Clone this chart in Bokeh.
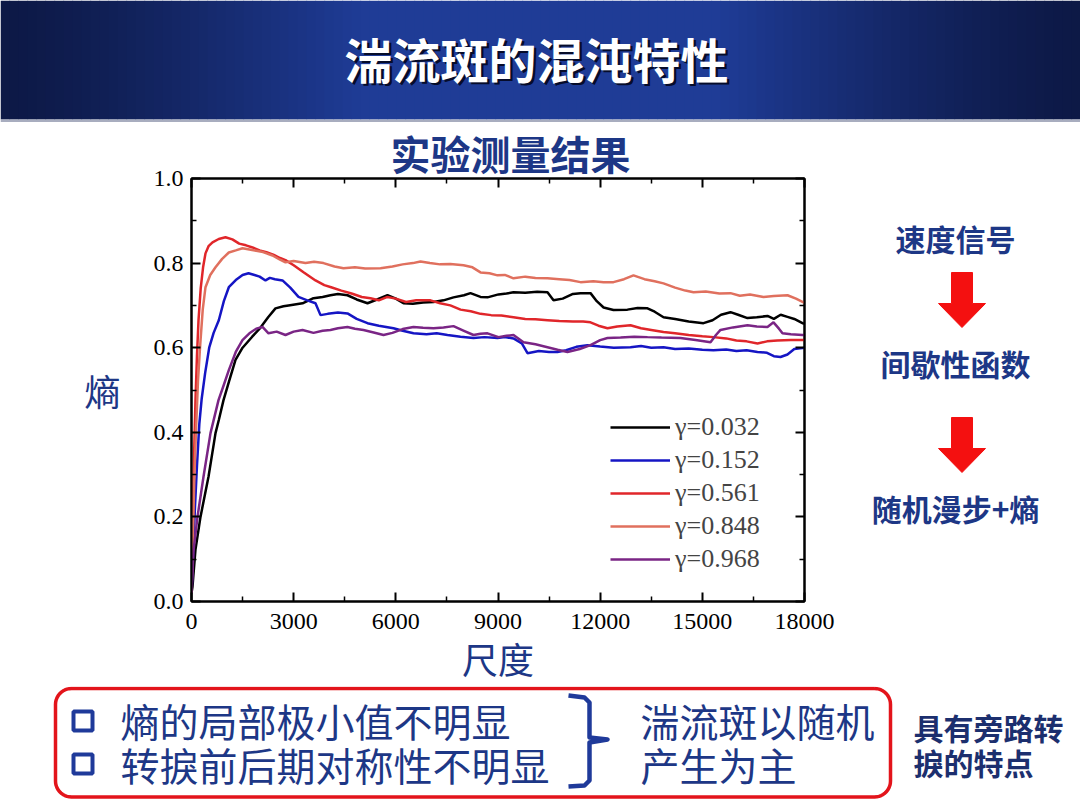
import numpy as np
from bokeh.plotting import figure
from bokeh.layouts import column, row
from bokeh.models import Range1d, FixedTicker, LinearAxis, Legend, LegendItem, PrintfTickFormatter
from bokeh.core.properties import value
from bokeh.embed import file_html
from bokeh.resources import INLINE

# ---------------- data ----------------
x_ticks = [0, 3000, 6000, 9000, 12000, 15000, 18000]
x_minor = [1500, 4500, 7500, 10500, 13500, 16500]
y_ticks = [0.0, 0.2, 0.4, 0.6, 0.8, 1.0]
y_minor = [0.1, 0.3, 0.5, 0.7, 0.9]

labels = ["γ=0.032", "γ=0.152", "γ=0.561", "γ=0.848", "γ=0.968"]

g032_x = [0, 29, 117, 264, 499, 705, 802, 940, 1100, 1292, 1500, 1782, 2000, 2250, 2466, 2700, 2848, 3260, 3582, 3850,
          4080, 4300, 4580, 4850, 5168, 5450, 5755, 6000, 6225, 6500, 6800, 7106, 7400, 7693, 8000, 8192, 8486, 8692,
          9015, 9250, 9455, 9800, 10150, 10453, 10630, 10900, 11200, 11422, 11716, 11900, 12100, 12391, 12800, 13100,
          13390, 13600, 13860, 14200, 14600, 15034, 15300, 15550, 15827, 16050, 16326, 16600, 16913, 17100, 17300,
          17500, 17700, 17940, 18000]
g032_y = [0.02, 0.035, 0.123, 0.20, 0.295, 0.398, 0.429, 0.476, 0.52, 0.571, 0.60, 0.626, 0.645, 0.672, 0.693, 0.698,
          0.70, 0.705, 0.717, 0.72, 0.724, 0.727, 0.724, 0.714, 0.705, 0.714, 0.724, 0.716, 0.705, 0.704, 0.707, 0.708,
          0.712, 0.719, 0.724, 0.729, 0.72, 0.719, 0.726, 0.728, 0.731, 0.73, 0.732, 0.731, 0.712, 0.716, 0.727, 0.729,
          0.729, 0.71, 0.695, 0.689, 0.69, 0.694, 0.693, 0.685, 0.672, 0.668, 0.662, 0.658, 0.665, 0.678, 0.684, 0.678,
          0.67, 0.672, 0.675, 0.668, 0.678, 0.673, 0.668, 0.658, 0.657]

g152_x = [0, 50, 100, 160, 230, 300, 400, 520, 650, 802, 950, 1096, 1300, 1500, 1674, 1850, 2000, 2173, 2300, 2450,
          2672, 2900, 3142, 3400, 3641, 3788, 4000, 4300, 4580, 4850, 5168, 5500, 5931, 6200, 6518, 6900, 7200, 7517,
          7900, 8280, 8600, 8985, 9200, 9455, 9700, 9866, 10200, 10500, 10747, 11000, 11300, 11627, 12000, 12400, 12890,
          13200, 13500, 13860, 14200, 14600, 15000, 15327, 15700, 16000, 16300, 16620, 16900, 17100, 17295, 17500,
          17700, 17940, 18000]
g152_y = [0.02, 0.12, 0.22, 0.32, 0.42, 0.48, 0.54, 0.60, 0.635, 0.665, 0.71, 0.743, 0.76, 0.772, 0.776, 0.772, 0.768,
          0.759, 0.765, 0.762, 0.759, 0.742, 0.72, 0.712, 0.705, 0.677, 0.68, 0.683, 0.681, 0.668, 0.658, 0.652, 0.646,
          0.64, 0.634, 0.632, 0.634, 0.63, 0.626, 0.623, 0.625, 0.623, 0.625, 0.622, 0.61, 0.587, 0.592, 0.59, 0.59,
          0.594, 0.602, 0.606, 0.603, 0.60, 0.601, 0.604, 0.60, 0.601, 0.597, 0.598, 0.595, 0.594, 0.596, 0.592, 0.594,
          0.59, 0.588, 0.58, 0.578, 0.584, 0.597, 0.599, 0.60]

g561_x = [0, 40, 80, 117, 160, 206, 270, 340, 411, 500, 617, 800, 998, 1200, 1400, 1600, 1791, 2000, 2200, 2400, 2600,
          2760, 3000, 3300, 3641, 3900, 4100, 4400, 4700, 5000, 5256, 5500, 5755, 6000, 6300, 6600, 7018, 7300, 7600,
          7900, 8200, 8486, 8800, 9100, 9455, 9800, 10100, 10453, 10800, 11200, 11500, 11716, 11950, 12215, 12500,
          12890, 13200, 13500, 13860, 14200, 14600, 15000, 15327, 15700, 16000, 16300, 16620, 16900, 17200, 17600, 18000]
g561_y = [0.02, 0.20, 0.36, 0.476, 0.58, 0.665, 0.74, 0.79, 0.823, 0.84, 0.849, 0.857, 0.861, 0.856, 0.846, 0.842,
          0.837, 0.83, 0.826, 0.82, 0.812, 0.807, 0.795, 0.778, 0.759, 0.748, 0.743, 0.735, 0.728, 0.72, 0.717, 0.712,
          0.72, 0.716, 0.708, 0.712, 0.712, 0.705, 0.70, 0.69, 0.686, 0.68, 0.677, 0.676, 0.672, 0.668, 0.667, 0.665,
          0.663, 0.662, 0.662, 0.66, 0.652, 0.646, 0.65, 0.653, 0.646, 0.642, 0.637, 0.634, 0.63, 0.627, 0.625, 0.622,
          0.617, 0.615, 0.61, 0.615, 0.617, 0.618, 0.618]

g848_x = [0, 40, 80, 130, 190, 250, 330, 411, 550, 705, 900, 1096, 1300, 1497, 1700, 1900, 2100, 2378, 2600, 2760,
          3000, 3347, 3600, 3876, 4200, 4463, 4800, 5100, 5550, 5900, 6200, 6500, 6724, 7000, 7300, 7600, 7987, 8250,
          8486, 8750, 8985, 9200, 9455, 9800, 10100, 10453, 10800, 11100, 11422, 11800, 12100, 12391, 12700, 12978,
          13300, 13600, 13860, 14200, 14500, 14740, 15100, 15500, 15827, 16100, 16400, 16796, 17100, 17501, 17750, 18000]
g848_y = [0.02, 0.15, 0.28, 0.40, 0.52, 0.60, 0.69, 0.743, 0.772, 0.79, 0.81, 0.825, 0.83, 0.835, 0.832, 0.829, 0.826,
          0.818, 0.808, 0.802, 0.805, 0.80, 0.803, 0.80, 0.792, 0.788, 0.79, 0.787, 0.788, 0.792, 0.797, 0.80, 0.804,
          0.80, 0.797, 0.798, 0.795, 0.79, 0.778, 0.776, 0.771, 0.772, 0.764, 0.768, 0.765, 0.764, 0.762, 0.76, 0.755,
          0.757, 0.755, 0.755, 0.762, 0.771, 0.762, 0.757, 0.752, 0.742, 0.735, 0.731, 0.733, 0.728, 0.729, 0.723,
          0.726, 0.72, 0.722, 0.724, 0.716, 0.706]

g968_x = [0, 59, 176, 352, 558, 793, 940, 1096, 1300, 1497, 1700, 1900, 2085, 2261, 2500, 2760, 3000, 3260, 3582, 3850,
          4080, 4300, 4580, 4800, 5050, 5350, 5638, 5900, 6200, 6518, 6800, 7106, 7400, 7693, 8000, 8280, 8486, 8692,
          9015, 9250, 9455, 9749, 10100, 10453, 10750, 11040, 11400, 11716, 12000, 12215, 12600, 13000, 13390, 13800,
          14358, 14800, 15240, 15400, 15533, 15900, 16326, 16600, 16913, 17090, 17250, 17354, 17600, 17940, 18000]
g968_y = [0.02, 0.12, 0.20, 0.295, 0.398, 0.476, 0.51, 0.547, 0.59, 0.618, 0.634, 0.645, 0.649, 0.634, 0.638, 0.63,
          0.638, 0.642, 0.635, 0.64, 0.642, 0.646, 0.649, 0.645, 0.642, 0.636, 0.63, 0.635, 0.644, 0.649, 0.647, 0.646,
          0.648, 0.651, 0.64, 0.63, 0.633, 0.634, 0.625, 0.628, 0.63, 0.613, 0.608, 0.601, 0.595, 0.59, 0.597, 0.606,
          0.618, 0.623, 0.624, 0.626, 0.625, 0.624, 0.623, 0.618, 0.613, 0.63, 0.642, 0.648, 0.653, 0.65, 0.649, 0.66,
          0.645, 0.634, 0.632, 0.63, 0.63]

colors = ["#000000", "#1515c4", "#e0262a", "#e0705e", "#7a2585"]

header_title = "湍流斑的混沌特性"
chart_title = "实验测量结果"
flow_texts = ["速度信号", "间歇性函数", "随机漫步+熵"]
box_left = ["熵的局部极小值不明显", "转捩前后期对称性不明显"]
box_right = ["湍流斑以随机", "产生为主"]
side_texts = ["具有旁路转", "捩的特点"]

CJK = "Noto Sans CJK SC"
SERIF = "Liberation Serif"
TXT_BLUE = "#1d3786"

H_TOP = 122      # header height
H_MID = 564      # chart row height
H_BOT = 810 - H_TOP - H_MID


def deco(w, h, x0, x1, ytop, ybot):
    f = figure(width=w, height=h, x_range=Range1d(x0, x1), y_range=Range1d(ybot, ytop),
               output_backend="svg", toolbar_location=None, x_axis_type=None, y_axis_type=None,
               min_border=0, min_border_left=0, min_border_right=0, min_border_top=0, min_border_bottom=0,
               outline_line_color=None, background_fill_color="white", border_fill_color="white")
    f.frame_align = False
    return f


# ---------------- header ----------------
hdr = deco(1080, H_TOP, 0, 1080, 0, H_TOP)
n = 120
edges = np.linspace(0, 1080, n + 1)
cols = []
for i in range(n):
    c = (edges[i] + edges[i + 1]) / 2
    t = 1 - abs(c - 540) / 540
    t = min(1.0, t * 1.5) ** 1.3
    r = int(13 + (31 - 13) * t)
    g = int(25 + (60 - 25) * t)
    b = int(70 + (150 - 70) * t)
    cols.append("#%02x%02x%02x" % (r, g, b))
hdr.quad(left=edges[:-1], right=edges[1:] + 0.6, top=0, bottom=H_TOP - 3, fill_color=cols, line_color=None)
hdr.quad(left=[0], right=[1080], top=[H_TOP - 3], bottom=[H_TOP], fill_color="#a8adbf", line_color=None)
hdr.text(x=[538.5], y=[59.5], text=[header_title], text_color="#060c2a", text_align="center",
         text_baseline="middle", text_font=value(CJK), text_font_style="bold", text_font_size="48px")
hdr.text(x=[536], y=[57], text=[header_title], text_color="white", text_align="center",
         text_baseline="middle", text_font=value(CJK), text_font_style="bold", text_font_size="48px")

# ---------------- chart ----------------
p = figure(width=850, height=H_MID, x_range=Range1d(0, 18000), y_range=Range1d(0, 1.0),
           output_backend="svg", toolbar_location=None,
           min_border_left=191, min_border_right=46, min_border_top=178 - H_TOP,
           min_border_bottom=H_TOP + H_MID - 602,
           background_fill_color="white", border_fill_color="white")
p.frame_align = False
p.grid.visible = False
p.outline_line_color = "black"
p.outline_line_width = 2

series = [(g032_x, g032_y), (g152_x, g152_y), (g561_x, g561_y), (g848_x, g848_y), (g968_x, g968_y)]
items = []
for (xs, ys), c, lab in zip(series, colors, labels):
    r = p.line(xs, ys, line_color=c, line_width=2.5)
    items.append(LegendItem(label=lab, renderers=[r]))


def style_axis(ax, ticks, minor, show):
    ax.ticker = FixedTicker(ticks=ticks, minor_ticks=minor)
    ax.axis_line_color = "black"
    ax.axis_line_width = 2
    ax.major_tick_line_color = "black"
    ax.major_tick_line_width = 2
    ax.minor_tick_line_color = "black"
    ax.minor_tick_line_width = 1.5
    ax.major_tick_in = 9
    ax.major_tick_out = 0
    ax.minor_tick_in = 5
    ax.minor_tick_out = 0
    if show:
        ax.major_label_text_font = SERIF
        ax.major_label_text_font_size = "24px"
        ax.major_label_text_color = "black"
    else:
        ax.major_label_overrides = {t: "" for t in ticks}
        ax.major_label_text_font_size = "1px"
        ax.major_label_standoff = 0


style_axis(p.xaxis[0], x_ticks, x_minor, True)
style_axis(p.yaxis[0], y_ticks, y_minor, True)
p.xaxis[0].formatter = PrintfTickFormatter(format="%d")
p.yaxis[0].formatter = PrintfTickFormatter(format="%.1f")
p.xaxis[0].major_label_standoff = 12
p.yaxis[0].major_label_standoff = 8

p.xaxis[0].axis_label = "尺度"
p.xaxis[0].axis_label_text_font = CJK
p.xaxis[0].axis_label_text_font_size = "36px"
p.xaxis[0].axis_label_text_font_style = "normal"
p.xaxis[0].axis_label_text_color = TXT_BLUE
p.xaxis[0].axis_label_standoff = 0

p.yaxis[0].axis_label = "熵"
p.yaxis[0].axis_label_orientation = "horizontal"
p.yaxis[0].axis_label_text_font = CJK
p.yaxis[0].axis_label_text_font_size = "36px"
p.yaxis[0].axis_label_text_font_style = "normal"
p.yaxis[0].axis_label_text_color = TXT_BLUE
p.yaxis[0].axis_label_standoff = 30

top_ax = LinearAxis()
style_axis(top_ax, x_ticks, x_minor, False)
p.add_layout(top_ax, "above")
right_ax = LinearAxis()
style_axis(right_ax, y_ticks, y_minor, False)
p.add_layout(right_ax, "right")

p.title.text = chart_title
p.title.align = "left"
p.title.text_font = CJK
p.title.text_font_size = "40px"
p.title.text_font_style = "bold"
p.title.text_color = TXT_BLUE
p.title.standoff = -6
p.title.offset = 199

legend = Legend(items=items, location=(419, 27), glyph_width=60, glyph_height=20, label_height=20,
                spacing=3, padding=0, margin=0, label_standoff=5, border_line_color=None,
                background_fill_alpha=0, label_text_font=SERIF, label_text_font_size="26px")
p.add_layout(legend)

# ---------------- right flow ----------------
rf = deco(230, H_MID, 850, 1080, H_TOP, H_TOP + H_MID)
rf.text(x=[955, 955, 955], y=[237, 362, 507], text=flow_texts, text_color=TXT_BLUE, text_align="center",
        text_baseline="middle", text_font=value(CJK), text_font_style="bold", text_font_size="30px")
for dy in (0, 145):
    ax_ = [951, 972, 972, 985, 961.5, 938, 951]
    ay_ = [272 + dy, 272 + dy, 303 + dy, 303 + dy, 327 + dy, 303 + dy, 303 + dy]
    rf.patch(ax_, ay_, fill_color="#f41010", line_color="#f41010", line_width=1)

# ---------------- bottom box ----------------
bf = deco(1080, H_BOT, 0, 1080, H_TOP + H_MID, 810)


def rrect(x0, y0, x1, y1, r):
    xs, ys = [], []
    for cx, cy, a0 in [(x1 - r, y0 + r, -90), (x1 - r, y1 - r, 0), (x0 + r, y1 - r, 90), (x0 + r, y0 + r, 180)]:
        for a in np.linspace(a0, a0 + 90, 12):
            xs.append(cx + r * np.cos(np.radians(a)))
            ys.append(cy + r * np.sin(np.radians(a)))
    xs.append(xs[0])
    ys.append(ys[0])
    return xs, ys


bx, by = rrect(55, 688, 890, 796.5, 16)
bf.line(bx, by, line_color="#e3141b", line_width=3.5)
bf.quad(left=[73, 73], right=[92, 92], top=[711, 754], bottom=[730, 773], fill_color=None,
        line_color="#1f3a9a", line_width=4)
bf.text(x=[120, 120], y=[719, 763], text=box_left, text_color=TXT_BLUE, text_align="left",
        text_baseline="middle", text_font=value(CJK), text_font_size="39px")
bf.text(x=[640, 640], y=[719, 763], text=box_right, text_color=TXT_BLUE, text_align="left",
        text_baseline="middle", text_font=value(CJK), text_font_size="39px")
bf.line([568, 584, 589, 589, 607, 589, 589, 584, 568], [695, 697, 702, 737, 739, 742, 780, 785, 786],
        line_color="#1f3a9a", line_width=4.5, line_join="round")
bf.text(x=[913, 913], y=[726, 761], text=side_texts, text_color="#1c2f6e", text_align="left",
        text_baseline="middle", text_font=value(CJK), text_font_style="bold", text_font_size="30px")

layout = column(hdr, row(p, rf), bf)
open("out.html", "w").write(file_html(layout, INLINE))
